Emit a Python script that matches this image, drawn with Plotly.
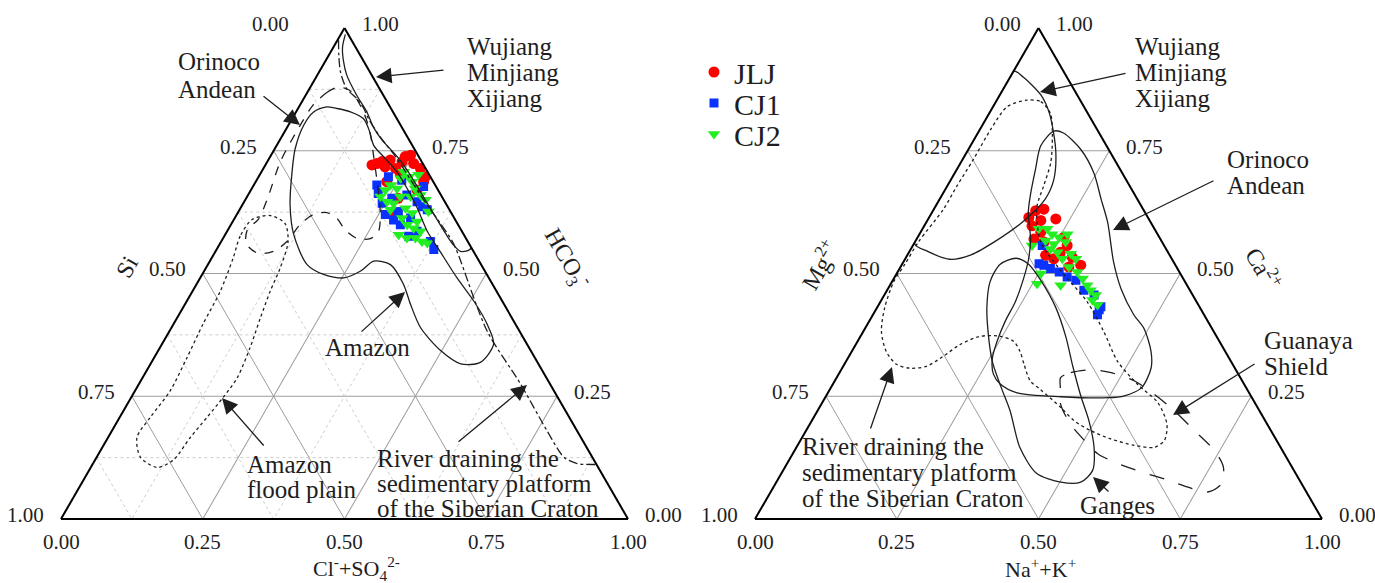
import math
import plotly.graph_objects as go

# ---------------- data (ternary fractions) ----------------
# Left diagram: a = HCO3-, c = Cl- + SO4 2-, b = Si (remainder)
L_JLJ_a = [0.721,0.724,0.728,0.717,0.731,0.738,0.741,0.724,0.714,0.687,0.701,0.714,0.626,0.670,0.687,0.653,0.727,0.697]
L_JLJ_c = [0.188,0.195,0.202,0.213,0.215,0.238,0.246,0.260,0.277,0.296,0.248,0.233,0.274,0.293,0.231,0.268,0.238,0.294]
L_CJ1_a = [0.697,0.680,0.663,0.643,0.620,0.609,0.690,0.660,0.646,0.636,0.630,0.613,0.586,0.565,0.549,0.576,0.599,0.653,0.677,0.626]
L_CJ1_c = [0.229,0.217,0.228,0.245,0.262,0.282,0.256,0.280,0.305,0.319,0.331,0.310,0.335,0.369,0.383,0.325,0.299,0.257,0.301,0.282]
L_CJ2_a = [0.670,0.680,0.673,0.657,0.657,0.646,0.643,0.707,0.697,0.687,0.673,0.660,0.650,0.626,0.633,0.623,0.613,0.599,0.592,0.586,0.579,0.572,0.572,0.565,0.606,0.694,0.701,0.630,0.562,0.657]
L_CJ2_c = [0.237,0.241,0.256,0.270,0.235,0.252,0.265,0.251,0.265,0.276,0.288,0.304,0.318,0.335,0.291,0.308,0.295,0.311,0.326,0.341,0.306,0.324,0.339,0.354,0.325,0.252,0.280,0.266,0.365,0.288]

# Right diagram: a = Ca2+, c = Na+ + K+, b = Mg2+ (remainder)
R_JLJ_a = [0.614,0.628,0.631,0.611,0.597,0.608,0.570,0.564,0.574,0.557,0.533,0.517,0.530,0.537,0.584,0.543,0.513]
R_JLJ_c = [0.176,0.181,0.194,0.225,0.190,0.200,0.207,0.228,0.258,0.272,0.293,0.316,0.262,0.244,0.212,0.267,0.297]
R_CJ1_a = [0.520,0.517,0.510,0.493,0.486,0.466,0.456,0.426,0.416,0.432,0.557,0.503]
R_CJ1_c = [0.241,0.251,0.266,0.304,0.323,0.347,0.370,0.394,0.396,0.394,0.228,0.285]
R_CJ2_a = [0.591,0.591,0.580,0.574,0.564,0.567,0.550,0.543,0.530,0.540,0.530,0.513,0.503,0.490,0.476,0.466,0.456,0.446,0.436,0.557,0.479,0.476,0.500,0.580,0.560]
R_CJ2_c = [0.205,0.220,0.234,0.249,0.266,0.229,0.246,0.262,0.277,0.287,0.301,0.297,0.317,0.333,0.348,0.359,0.373,0.372,0.386,0.210,0.258,0.301,0.254,0.261,0.247]

# Reference river envelopes, left diagram (a = HCO3, c = Cl+SO4)
ORINOCO_L_a = [0.879,0.869,0.843,0.802,0.728,0.657,0.610,0.590,0.561,0.541,0.545,0.565,0.600,0.620,0.624,0.612,0.590,0.571,0.571,0.586,0.626,0.687,0.742,0.788,0.829,0.869,0.877,0.879]
ORINOCO_L_c = [0.048,0.035,0.023,0.021,0.023,0.037,0.043,0.034,0.046,0.077,0.102,0.116,0.122,0.135,0.157,0.181,0.205,0.237,0.260,0.267,0.250,0.214,0.180,0.151,0.119,0.079,0.063,0.048]
AMAZON_a = [0.839,0.836,0.829,0.815,0.795,0.761,0.734,0.707,0.673,0.633,0.586,0.545,0.491,0.444,0.397,0.356,0.319,0.316,0.343,0.390,0.437,0.478,0.518,0.525,0.505,0.491,0.498,0.518,0.579,0.640,0.707,0.754,0.802,0.829,0.839]
AMAZON_c = [0.047,0.069,0.096,0.126,0.145,0.171,0.205,0.239,0.274,0.312,0.353,0.396,0.453,0.506,0.553,0.585,0.580,0.547,0.498,0.439,0.398,0.365,0.322,0.289,0.276,0.253,0.214,0.175,0.121,0.084,0.054,0.036,0.027,0.031,0.047]
WUJIANG_L_a = [0.987,0.961,0.934,0.904,0.863,0.829,0.798,0.772,0.738,0.707,0.667,0.622,0.582,0.559,0.545,0.551,0.985]
WUJIANG_L_c = [0.008,0.016,0.031,0.052,0.090,0.125,0.152,0.180,0.224,0.259,0.300,0.346,0.387,0.412,0.432,0.447,0.015]
SIBERIA_L_a = [0.975,0.944,0.910,0.876,0.856,0.836,0.815,0.778,0.738,0.691,0.646,0.602,0.565,0.539,0.383,0.275,0.180,0.126,0.113,0.111]
SIBERIA_L_c = [0.002,0.018,0.038,0.066,0.094,0.116,0.135,0.174,0.221,0.271,0.319,0.368,0.408,0.431,0.560,0.673,0.767,0.824,0.854,0.887]
FLOOD_a = [0.610,0.576,0.531,0.464,0.397,0.328,0.261,0.207,0.166,0.126,0.105,0.120,0.166,0.207,0.247,0.288,0.349,0.409,0.464,0.511,0.565,0.602,0.618,0.610]
FLOOD_c = [0.032,0.028,0.038,0.049,0.052,0.058,0.062,0.054,0.051,0.077,0.117,0.138,0.145,0.154,0.162,0.167,0.159,0.147,0.137,0.131,0.118,0.094,0.060,0.032]

# Reference river envelopes, right diagram (a = Ca, c = Na+K)
WUJIANG_R_a = [0.912,0.900,0.863,0.825,0.749,0.689,0.651,0.606,0.568,0.538,0.529,0.545,0.562,0.912]
WUJIANG_R_c = [0.000,0.023,0.073,0.107,0.156,0.182,0.186,0.170,0.143,0.112,0.079,0.032,0.000,0.000]
SIBERIA_R_a = [0.853,0.850,0.826,0.779,0.725,0.678,0.634,0.564,0.507,0.442,0.382,0.321,0.274,0.237,0.193,0.160,0.146,0.150,0.163,0.180,0.200,0.227,0.264,0.281,0.315,0.341,0.362,0.372,0.372,0.355,0.331,0.311,0.307,0.315,0.341,0.382,0.429,0.483,0.519,0.564,0.631,0.678,0.732,0.793,0.840,0.853]
SIBERIA_R_c = [0.053,0.079,0.108,0.135,0.159,0.170,0.180,0.222,0.285,0.365,0.424,0.479,0.538,0.592,0.630,0.642,0.631,0.594,0.546,0.502,0.463,0.426,0.371,0.345,0.317,0.297,0.275,0.247,0.211,0.184,0.166,0.147,0.120,0.092,0.061,0.032,0.014,0.003,0.005,0.006,0.017,0.017,0.019,0.019,0.025,0.053]
ORINOCO_R_a = [0.790,0.786,0.752,0.705,0.651,0.604,0.523,0.469,0.416,0.388,0.341,0.307,0.267,0.251,0.247,0.249,0.257,0.275,0.295,0.327,0.362,0.402,0.442,0.489,0.529,0.570,0.624,0.665,0.711,0.760,0.790]
ORINOCO_R_c = [0.132,0.151,0.199,0.245,0.285,0.320,0.371,0.411,0.460,0.492,0.528,0.545,0.548,0.526,0.499,0.415,0.334,0.295,0.273,0.255,0.246,0.240,0.238,0.229,0.218,0.201,0.170,0.154,0.139,0.124,0.132]
GANGES_a = [0.531,0.519,0.483,0.432,0.382,0.321,0.267,0.220,0.146,0.093,0.075,0.075,0.099,0.146,0.200,0.251,0.311,0.372,0.432,0.487,0.519,0.531]
GANGES_c = [0.195,0.173,0.173,0.193,0.220,0.258,0.301,0.340,0.394,0.450,0.502,0.537,0.546,0.525,0.489,0.449,0.405,0.362,0.314,0.260,0.223,0.195]
GUANAYA_a = [0.288,0.298,0.304,0.298,0.281,0.254,0.220,0.180,0.139,0.106,0.072,0.055,0.065,0.079,0.096,0.113,0.133,0.160,0.193,0.234,0.267,0.288]
GUANAYA_c = [0.395,0.408,0.440,0.479,0.529,0.577,0.630,0.685,0.741,0.773,0.787,0.771,0.731,0.689,0.633,0.583,0.538,0.501,0.460,0.422,0.405,0.395]

MAJOR_TICKS = [0.0, 0.25, 0.5, 0.75, 1.0]
MINOR_TICKS = [0.125, 0.375, 0.625, 0.875]

SERIF = "Liberation Serif"
INK = "#1e1e1e"
W, H = 1375, 583
BASE_Y = 519                       # pixel row of both triangle bases
PANEL_X = {"ternary": (61, 628), "ternary2": (755, 1322)}


def rest(a, c):
    return [round(1 - x - y, 4) for x, y in zip(a, c)]


fig = go.Figure()

# minor dotted grid on the left diagram
for v in MINOR_TICKS:
    for a_, b_, c_ in (([v, v], [1 - v, 0], [0, 1 - v]),
                       ([1 - v, 0], [v, v], [0, 1 - v]),
                       ([1 - v, 0], [0, 1 - v], [v, v])):
        fig.add_trace(go.Scatterternary(a=a_, b=b_, c=c_, mode="lines", subplot="ternary",
                                        line=dict(color="#cdcdcd", width=1, dash="dot"),
                                        showlegend=False, hoverinfo="skip"))

series = [
    ("JLJ", L_JLJ_a, L_JLJ_c, R_JLJ_a, R_JLJ_c, dict(symbol="circle", color="#ff0000", size=11), "legend"),
    ("CJ1", L_CJ1_a, L_CJ1_c, R_CJ1_a, R_CJ1_c, dict(symbol="square", color="#0a32ff", size=9), "legend2"),
    ("CJ2", L_CJ2_a, L_CJ2_c, R_CJ2_a, R_CJ2_c, dict(symbol="triangle-down", color="#22ee22", size=11), "legend3"),
]
for name, la, lc, ra, rc, mk, lg in series:
    fig.add_trace(go.Scatterternary(a=la, b=rest(la, lc), c=lc, mode="markers", name=name,
                                    legendgroup=name, legend=lg, marker=mk, subplot="ternary"))
    fig.add_trace(go.Scatterternary(a=ra, b=rest(ra, rc), c=rc, mode="markers", name=name,
                                    legendgroup=name, legend=lg, marker=mk, subplot="ternary2",
                                    showlegend=False))

envelopes = [
    ("ternary", ORINOCO_L_a, ORINOCO_L_c, "dash"),
    ("ternary", AMAZON_a, AMAZON_c, "solid"),
    ("ternary", WUJIANG_L_a, WUJIANG_L_c, "solid"),
    ("ternary", SIBERIA_L_a, SIBERIA_L_c, "dashdot"),
    ("ternary", FLOOD_a, FLOOD_c, "dot"),
    ("ternary2", WUJIANG_R_a, WUJIANG_R_c, "solid"),
    ("ternary2", SIBERIA_R_a, SIBERIA_R_c, "dot"),
    ("ternary2", ORINOCO_R_a, ORINOCO_R_c, "solid"),
    ("ternary2", GANGES_a, GANGES_c, "solid"),
    ("ternary2", GUANAYA_a, GUANAYA_c, "longdash"),
]
for sp, ea, ec, dash in envelopes:
    fig.add_trace(go.Scatterternary(a=ea, b=rest(ea, ec), c=ec, mode="lines", subplot=sp,
                                    line=dict(color=INK, width=1.3, dash=dash, shape="spline", smoothing=0.8),
                                    showlegend=False, hoverinfo="skip"))


def axis():
    return dict(title=dict(text=""), tickmode="array", tickvals=MAJOR_TICKS,
                showticklabels=False, showgrid=True, gridcolor="#9c9c9c", gridwidth=1,
                showline=True, linecolor="black", linewidth=2, ticks="", min=0)


def dom(panel):
    x0, x1 = PANEL_X[panel]
    h = (x1 - x0) * math.sqrt(3) / 2
    return dict(x=[x0 / W, x1 / W], y=[1 - BASE_Y / H, 1 - (BASE_Y - h) / H])


def legend_box(y):
    return dict(x=694 / W, y=1 - y / H, xanchor="left", yanchor="middle",
                font=dict(family=SERIF, size=30, color=INK), bgcolor="rgba(0,0,0,0)",
                itemsizing="trace")


fig.update_layout(
    width=W, height=H, margin=dict(l=0, r=0, t=0, b=0),
    paper_bgcolor="white", plot_bgcolor="white",
    ternary=dict(domain=dom("ternary"), sum=1, bgcolor="white",
                 aaxis=axis(), baxis=axis(), caxis=axis()),
    ternary2=dict(domain=dom("ternary2"), sum=1, bgcolor="white",
                  aaxis=axis(), baxis=axis(), caxis=axis()),
    legend=legend_box(72), legend2=legend_box(103), legend3=legend_box(134),
    font=dict(family=SERIF, color=INK),
)


def px(x):
    return x / W


def py(y):
    return 1 - y / H


def tern_px(panel, a, c):
    x0, x1 = PANEL_X[panel]
    side = x1 - x0
    return x0 + c * side + a * side / 2, BASE_Y - a * side * math.sqrt(3) / 2


def text(x, y, s, size=25, anchor="left", angle=0, xshift=0, yshift=0):
    fig.add_annotation(x=px(x), y=py(y), xref="paper", yref="paper", text=s, showarrow=False,
                       xanchor=anchor, yanchor="middle", align="left", textangle=angle,
                       xshift=xshift, yshift=yshift,
                       font=dict(family=SERIF, size=size, color=INK))


def arrow(tail, tip):
    fig.add_annotation(x=px(tip[0]), y=py(tip[1]), xref="paper", yref="paper", text="",
                       showarrow=True, ax=tail[0] - tip[0], ay=tail[1] - tip[1],
                       arrowhead=2, arrowsize=2.4, arrowwidth=1.3, arrowcolor=INK, standoff=0)


# tick labels along the three edges of each triangle (values read clockwise)
for panel, apex_gap in (("ternary", 54), ("ternary2", 16)):
    for v in MAJOR_TICKS:
        lab = f"{1 - v:.2f}"
        x, y = tern_px(panel, v, 0.0)                 # left edge
        text(x, y, lab, 21, "right", xshift=-(apex_gap if v == 1.0 else 15), yshift=4)
        x, y = tern_px(panel, 1 - v, v)               # right edge
        text(x, y, lab, 21, "left", xshift=15, yshift=4)
        x, y = tern_px(panel, 0.0, v)                 # base
        text(x, y, f"{v:.2f}", 21, "center", yshift=-23)

# axis titles
text(127, 267, "Si", 24, "center", -60)
text(567, 258, "HCO<sub>3</sub><sup>-</sup>", 24, "center", 60)
text(357, 568, "Cl<sup>-</sup>+SO<sub>4</sub><sup>2-</sup>", 22, "center")
text(819, 265, "Mg<sup>2+</sup>", 24, "center", -60)
text(1264, 268, "Ca<sup>2+</sup>", 24, "center", 60)
text(1040, 568, "Na<sup>+</sup>+K<sup>+</sup>", 22, "center")

# left annotations
text(176, 62, "Orinoco")
text(176, 89, "Andean")
arrow((262, 95), (300, 125))
text(465, 47, "Wujiang")
text(465, 73, "Minjiang")
text(465, 98, "Xijiang")
arrow((445, 70), (376, 77))
text(367, 347, "Amazon", anchor="center")
arrow((360, 333), (405, 292))
text(245, 464, "Amazon")
text(245, 489, "flood plain")
arrow((265, 447), (222, 398))
text(375, 458, "River draining the")
text(375, 483, "sedimentary platform")
text(375, 508, "of the Siberian Craton")
arrow((457, 443), (527, 385))

# right annotations
text(1133, 46, "Wujiang")
text(1133, 72, "Minjiang")
text(1133, 98, "Xijiang")
arrow((1127, 73), (1040, 92))
text(1225, 159, "Orinoco")
text(1225, 185, "Andean")
arrow((1215, 180), (1113, 230))
text(1262, 340, "Guanaya")
text(1262, 366, "Shield")
arrow((1256, 363), (1173, 415))
text(1117, 505, "Ganges", anchor="center")
arrow((1110, 493), (1093, 477))
text(800, 446, "River draining the")
text(800, 472, "sedimentary platform")
text(800, 498, "of the Siberian Craton")
arrow((870, 430), (892, 367))

fig.write_html("out.html", config={"displayModeBar": False},
               post_script="document.body.style.margin='0';document.body.style.overflow='hidden';")
